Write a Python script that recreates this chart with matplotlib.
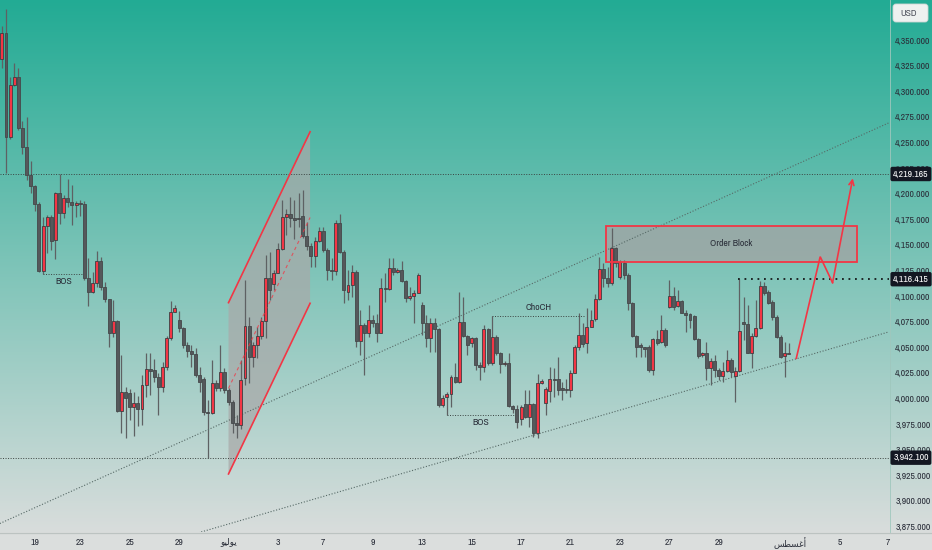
import os

import matplotlib
matplotlib.use("Agg")
import matplotlib.pyplot as plt
import matplotlib.transforms as mtransforms
from matplotlib import font_manager
from matplotlib.font_manager import FontProperties
from matplotlib.patches import Polygon, Rectangle, FancyBboxPatch
import numpy as np

# ---- 4H candles (bar index 0..191) ----
opens = [
    4331.2, 4356.5, 4255.6, 4306.1, 4313.6, 4264.5, 4245.5, 4217.9, 4207.7, 4189.5,
    4124.7, 4168.4, 4177.4, 4155.0, 4200.3, 4180.8, 4196.0, 4191.5, 4188.9, 4191.1,
    4190.2, 4117.3, 4104.2, 4112.4, 4134.2, 4109.1, 4096.8, 4064.2, 4075.6, 3988.0,
    4006.5, 4005.0, 3991.9, 3995.8, 3989.4, 4013.1, 4028.4, 4028.0, 4020.6, 4011.4,
    4031.0, 4058.7, 4084.7, 4077.0, 4068.4, 4052.1, 4046.6, 4043.3, 4022.8, 4018.9,
    3987.0, 3985.5, 4015.3, 4009.9, 4026.1, 4008.2, 3996.8, 3976.4, 3973.6, 4020.0,
    4070.7, 4040.7, 4052.1, 4060.9, 4075.9, 4117.3, 4112.0, 4122.8, 4145.6, 4177.4,
    4180.1, 4175.9, 4176.5, 4178.1, 4158.6, 4148.8, 4139.1, 4154.0, 4163.8, 4144.9,
    4125.4, 4124.4, 4171.6, 4143.3, 4104.2, 4110.7, 4123.7, 4056.3, 4071.7, 4063.6,
    4076.6, 4073.3, 4064.2, 4107.5, 4106.5, 4127.0, 4123.7, 4125.4, 4114.9, 4097.7,
    4100.0, 4103.2, 4091.2, 4073.9, 4058.7, 4073.9, 4067.5, 3993.5, 4001.7, 4004.3,
    4020.6, 4016.3, 4074.9, 4060.9, 4053.8, 4058.7, 4032.6, 4030.9, 4067.5, 4034.3,
    4060.3, 4044.0, 4033.6, 4034.8, 3992.6, 3990.0, 3979.6, 3994.5, 3981.5, 3994.5,
    3966.5, 4015.3, 3995.2, 4007.5, 4018.6, 4018.6, 4009.9, 4009.0, 4008.2, 4025.1,
    4049.9, 4061.9, 4053.8, 4070.0, 4077.2, 4096.8, 4126.1, 4117.3, 4112.4, 4146.6,
    4118.8, 4131.9, 4120.5, 4092.9, 4060.9, 4052.1, 4049.9, 4049.9, 4027.7, 4057.7,
    4055.4, 4066.8, 4089.0, 4100.0, 4090.2, 4095.4, 4083.7, 4082.4, 4080.5, 4057.7,
    4042.4, 4044.6, 4029.4, 4036.8, 4027.7, 4021.9, 4027.0, 4037.5, 4021.9, 4027.0,
    4074.9, 4072.6, 4044.6, 4060.9, 4068.4, 4109.8, 4104.2, 4094.4, 4079.8, 4060.3,
    4041.4, 4044.6,
]
highs = [
    4363.7, 4380.0, 4313.9, 4327.2, 4322.4, 4271.4, 4274.5, 4231.8, 4208.5, 4192.0,
    4177.4, 4179.1, 4179.0, 4202.0, 4219.2, 4198.6, 4214.0, 4208.4, 4192.5, 4194.0,
    4193.0, 4136.8, 4123.7, 4144.2, 4138.1, 4114.0, 4097.5, 4096.1, 4076.5, 4042.4,
    4011.4, 4009.0, 4006.5, 4002.0, 4022.8, 4044.0, 4044.0, 4038.2, 4025.1, 4035.8,
    4061.0, 4095.4, 4091.2, 4085.0, 4070.0, 4055.4, 4052.0, 4049.0, 4031.0, 4021.0,
    3998.4, 4037.5, 4018.0, 4052.0, 4030.0, 4010.0, 3998.4, 3983.7, 4037.5, 4115.6,
    4079.8, 4055.5, 4070.0, 4079.8, 4140.0, 4143.3, 4125.4, 4151.5, 4193.7, 4184.6,
    4197.0, 4193.7, 4200.3, 4203.5, 4172.6, 4151.5, 4158.0, 4167.1, 4167.7, 4146.6,
    4137.1, 4174.2, 4180.1, 4145.0, 4125.4, 4130.3, 4125.4, 4086.3, 4073.3, 4091.2,
    4081.4, 4082.4, 4117.3, 4122.2, 4136.8, 4136.8, 4127.0, 4134.5, 4115.6, 4109.1,
    4105.9, 4122.2, 4094.4, 4081.4, 4078.2, 4078.2, 4068.4, 4003.3, 4006.6, 4022.8,
    4034.3, 4104.2, 4099.3, 4061.9, 4060.3, 4060.3, 4035.8, 4071.7, 4068.4, 4080.5,
    4061.9, 4045.6, 4036.5, 4044.0, 3994.0, 3993.5, 3993.5, 4008.2, 4008.2, 3995.5,
    4023.8, 4019.0, 4011.4, 4031.0, 4029.4, 4040.7, 4016.3, 4018.6, 4027.7, 4052.1,
    4083.1, 4073.9, 4088.0, 4086.3, 4101.9, 4138.4, 4131.9, 4128.6, 4166.1, 4148.1,
    4135.1, 4135.1, 4122.2, 4094.4, 4061.9, 4053.8, 4049.9, 4052.1, 4058.7, 4066.8,
    4081.4, 4068.4, 4115.6, 4109.1, 4105.9, 4096.1, 4086.3, 4083.1, 4081.4, 4058.7,
    4045.6, 4055.4, 4039.1, 4042.4, 4029.4, 4035.8, 4047.3, 4039.1, 4030.9, 4116.415,
    4099.3, 4091.2, 4063.6, 4096.1, 4115.0, 4114.0, 4105.9, 4096.1, 4081.4, 4062.0,
    4055.4, 4053.8,
]
lows = [
    4322.4, 4220.1, 4253.0, 4305.1, 4262.0, 4238.7, 4213.3, 4200.9, 4183.3, 4123.7,
    4121.5, 4141.7, 4144.9, 4135.8, 4170.3, 4175.9, 4187.2, 4169.3, 4176.8, 4178.0,
    4115.6, 4090.2, 4102.6, 4109.1, 4105.9, 4094.4, 4050.5, 4060.3, 3987.0, 3965.9,
    3961.0, 3978.9, 3963.3, 3973.0, 3974.0, 4001.7, 4003.3, 4016.3, 3983.8, 4006.6,
    4027.7, 4057.0, 4084.0, 4065.0, 4049.0, 4040.7, 4031.0, 4021.0, 4006.6, 3984.0,
    3942.1, 3985.0, 4007.0, 4007.0, 4005.0, 3994.0, 3965.9, 3961.0, 3970.5, 4013.0,
    4014.7, 4031.0, 4039.0, 4058.0, 4059.0, 4096.1, 4106.0, 4122.0, 4145.0, 4159.6,
    4167.7, 4156.0, 4167.7, 4157.0, 4145.0, 4128.6, 4128.6, 4152.6, 4143.0, 4115.6,
    4115.6, 4120.5, 4141.7, 4092.9, 4096.1, 4099.3, 4050.5, 4042.4, 4022.8, 4060.3,
    4069.7, 4055.4, 4063.6, 4094.4, 4105.9, 4120.5, 4122.2, 4114.0, 4094.4, 4096.1,
    4073.3, 4102.6, 4061.9, 4050.5, 4045.6, 4045.6, 3991.9, 3991.9, 3983.8, 3991.9,
    4014.7, 4014.7, 4060.3, 4042.4, 4050.0, 4027.7, 4017.9, 4026.1, 4032.6, 4032.6,
    4042.4, 4024.5, 4032.0, 3991.9, 3986.0, 3970.8, 3974.0, 3980.6, 3972.3, 3962.6,
    3961.0, 4014.0, 3983.8, 3996.8, 4001.7, 4003.3, 3998.4, 4004.9, 4001.7, 4024.5,
    4047.3, 4050.5, 4044.6, 4069.5, 4076.0, 4096.1, 4109.1, 4109.1, 4111.0, 4128.6,
    4116.3, 4116.3, 4086.3, 4060.0, 4040.7, 4040.7, 4040.7, 4026.1, 4022.8, 4052.1,
    4053.8, 4050.5, 4088.0, 4086.3, 4089.5, 4083.4, 4065.1, 4068.4, 4057.0, 4039.1,
    4040.7, 4017.9, 4013.1, 4021.2, 4017.9, 4016.3, 4026.1, 4021.2, 3996.8, 4026.1,
    4057.0, 4044.0, 4029.4, 4060.3, 4067.5, 4100.9, 4092.0, 4077.0, 4058.7, 4039.1,
    4021.2, 4043.0,
]
closes = [
    4356.5, 4255.6, 4306.1, 4313.6, 4264.5, 4245.5, 4217.9, 4207.7, 4189.5, 4124.7,
    4168.4, 4177.4, 4154.0, 4200.3, 4180.8, 4196.0, 4191.5, 4188.9, 4191.1, 4190.2,
    4117.3, 4104.2, 4112.4, 4134.2, 4109.1, 4096.8, 4064.2, 4075.6, 3988.0, 4006.5,
    4000.1, 3991.9, 3995.8, 3989.4, 4013.1, 4028.4, 4026.8, 4020.6, 4011.4, 4031.0,
    4058.7, 4084.7, 4088.0, 4068.4, 4052.1, 4046.6, 4043.3, 4022.8, 4016.3, 3987.0,
    3985.5, 4015.3, 4009.9, 4026.1, 4008.2, 3996.8, 3976.4, 3973.6, 4018.0, 4070.7,
    4040.7, 4052.1, 4060.9, 4075.9, 4117.3, 4105.9, 4122.8, 4145.6, 4177.4, 4180.1,
    4175.9, 4174.2, 4175.3, 4158.6, 4148.8, 4139.1, 4154.0, 4163.8, 4144.9, 4125.4,
    4124.4, 4171.6, 4143.3, 4105.9, 4110.7, 4123.7, 4056.3, 4071.7, 4063.6, 4076.6,
    4073.3, 4064.2, 4107.5, 4106.5, 4127.0, 4123.7, 4125.4, 4114.9, 4097.7, 4100.0,
    4103.2, 4120.5, 4073.9, 4058.7, 4073.9, 4067.5, 3993.5, 4000.1, 4004.3, 4020.6,
    4016.3, 4074.9, 4060.9, 4052.1, 4058.7, 4032.6, 4030.9, 4067.5, 4034.3, 4060.3,
    4044.0, 4033.6, 4034.8, 3992.6, 3990.0, 3977.3, 3991.9, 3982.1, 3994.5, 3966.5,
    4014.7, 4017.3, 4008.9, 4018.6, 4017.9, 4008.2, 4008.2, 4008.2, 4025.1, 4049.9,
    4061.9, 4053.1, 4070.0, 4076.6, 4096.8, 4126.1, 4117.3, 4112.4, 4146.6, 4131.9,
    4133.5, 4120.5, 4092.9, 4060.9, 4050.5, 4049.9, 4048.3, 4027.7, 4057.7, 4053.8,
    4066.8, 4052.1, 4100.0, 4089.5, 4095.4, 4083.7, 4081.4, 4076.6, 4057.7, 4041.4,
    4044.6, 4029.4, 4036.8, 4027.7, 4021.9, 4027.0, 4037.5, 4026.1, 4027.0, 4066.1,
    4072.6, 4044.6, 4060.9, 4068.4, 4109.8, 4102.6, 4093.5, 4079.8, 4060.3, 4040.7,
    4044.0, 4043.3,
]

# time axis labels (bar index of each day label)
tick_bars = [8, 19, 31, 43, 55, 67, 78, 90, 102, 114, 126, 138, 150, 162, 174, 191.3, 203.4, 215.1]
tick_labels = [
    "19", "23", "25", "29", "\ufeee\ufef4\ufedf\ufeee\ufef3", "3", "7", "9", "13", "15",
    "17", "21", "23", "27", "29", "\ufeb2\ufec4\ufeb4\ufecf\ufe83", "5", "7",
]
price_ticks = list(range(3875, 4351, 25))
marked_prices = [4219.165, 4116.415, 3942.100]

# drawings: (bar, price) pairs
upper_trend = ([-0.5, 215.3], [3877.8, 4269.2])
lower_trend = ([45.0, 215.3], [3865.6, 4065.0])
channel_top = ([55.0, 74.8], [4093.5, 4260.4])
channel_bottom = ([55.0, 74.8], [3926.2, 4092.9])
channel_mid = ([55.0, 74.8], [4009.8, 4176.7])
order_block = (146.6, 207.5, 4133.5, 4168.4)
bos_levels = [(10.0, 19.8, 4121.5), (108.0, 124.3, 3983.8)]
choch_level = (118.9, 141.5, 4080.5)
projection_x = [192.8, 198.6, 201.6, 206.5]
projection_y = [4039.2, 4138.4, 4113.0, 4214.9]

W, H = 932, 550
PLOT_R, PLOT_B = 889, 532
RED = "#f23645"
TXT = "#2a2e39"

plt.rcParams["font.family"] = ["Liberation Sans", "DejaVu Sans"]


def narrow_font():
    """Pick an installed condensed/narrow regular face, if any."""
    skip = ("bold", "italic", "oblique", "light", "thin", "black", "medium", "extra")
    best = None
    for f in font_manager.fontManager.ttflist:
        base = os.path.basename(f.fname).lower()
        if not ("narrow" in base or "condensed" in base):
            continue
        rest = base.replace("semicondensed", "").replace("condensed", "").replace("narrow", "")
        if any(w in rest for w in skip):
            continue
        rank = 0 if "narrow" in base else (1 if "semicondensed" not in base else 2)
        if best is None or rank < best[0]:
            best = (rank, f.fname)
    return best[1] if best else None


nf = narrow_font()
if nf:
    LBL = FontProperties(fname=nf, size=7.0)
else:
    LBL = FontProperties(family="Liberation Sans", size=5.8)

fig = plt.figure(figsize=(W / 100, H / 100), dpi=100)

# background in pixel coordinates
bg = fig.add_axes([0, 0, 1, 1])
bg.set_xlim(0, W)
bg.set_ylim(H, 0)
bg.axis("off")
top = np.array([34, 171, 148]) / 255
bot = np.array([217, 221, 220]) / 255
t = np.clip(np.arange(H) / PLOT_B, 0, 1)[:, None]
grad = top * (1 - t) + bot * t
grad[PLOT_B:] = np.array([219, 222, 221]) / 255
bg.imshow(np.repeat(grad[:, None, :], 2, axis=1), aspect="auto", extent=(0, W, H, 0), zorder=0)
bg.plot([0, W], [PLOT_B + 0.5, PLOT_B + 0.5], color="#bcc3c1", lw=0.9)
bg.plot([PLOT_R + 0.5, PLOT_R + 0.5], [0, PLOT_B], color="#9fc7bd", lw=0.6)
bg.add_patch(FancyBboxPatch((893, 4), 35, 18, boxstyle="round,pad=0,rounding_size=3",
                            fc="#eef1f0", ec="#cfd6d4", lw=0.6))
bg.text(900, 13.5, "USD", fontproperties=LBL, color="#50535e", va="center", ha="left")

ax = fig.add_axes([0, (H - PLOT_B) / H, PLOT_R / W, PLOT_B / H])
ax.patch.set_alpha(0)
for s in ax.spines.values():
    s.set_visible(False)

o = np.array(opens)
c = np.array(closes)
hi = np.maximum(np.array(highs), np.maximum(o, c))
lo = np.minimum(np.array(lows), np.minimum(o, c))
x = np.arange(len(o))
up = c >= o

# channel and order block fills (under candles)
ax.add_patch(Polygon([(channel_top[0][0], channel_top[1][0]), (channel_top[0][1], channel_top[1][1]),
                      (channel_bottom[0][1], channel_bottom[1][1]), (channel_bottom[0][0], channel_bottom[1][0])],
                     closed=True, fc="#a9a9a9", ec="none", alpha=0.72, zorder=1))
x0, x1, ob_lo, ob_hi = order_block
ax.add_patch(Rectangle((x0, ob_lo), x1 - x0, ob_hi - ob_lo, fc="#a3a3a3", ec="none", alpha=0.75, zorder=1))

# candles
ax.vlines(x, lo, hi, color="#5e6163", lw=0.9, zorder=2)
ax.bar(x[up], np.maximum(c - o, 0.9)[up], bottom=o[up], width=0.72,
       color=RED, edgecolor="#3d3f42", linewidth=0.6, zorder=3)
ax.bar(x[~up], np.maximum(o - c, 0.9)[~up], bottom=c[~up], width=0.72,
       color="#55585b", edgecolor="#45484a", linewidth=0.6, zorder=3)

# horizontal levels
dots = (0, (1, 1.6))
ax.axhline(marked_prices[0], color="#3b4341", lw=0.7, ls=dots, zorder=2)
ax.axhline(marked_prices[2], color="#3b4341", lw=0.7, ls=dots, zorder=2)
ax.hlines(marked_prices[1], 178.6, 216, color="#15191a", lw=1.3, ls=(0, (1, 2.6)), zorder=4)

# trend lines
ax.plot(*upper_trend, color="#566966", lw=0.8, ls=dots, zorder=2)
ax.plot(*lower_trend, color="#566966", lw=0.8, ls=dots, zorder=2)

# channel edges
ax.plot(*channel_top, color=RED, lw=1.2, zorder=4)
ax.plot(*channel_bottom, color=RED, lw=1.2, zorder=4)
ax.plot(*channel_mid, color=RED, lw=0.8, ls=(0, (3, 3)), alpha=0.75, zorder=4)

# order block outline
ax.add_patch(Rectangle((x0, ob_lo), x1 - x0, ob_hi - ob_lo, fc="none", ec=RED, lw=1.3, zorder=4))
ax.text((x0 + x1) / 2, (ob_lo + ob_hi) / 2, "Order Block", fontproperties=LBL, color=TXT,
        ha="center", va="center", zorder=5)

# structure labels
for bx0, bx1, lvl in bos_levels:
    ax.hlines(lvl, bx0, bx1, color="#3b4341", lw=0.7, ls=dots, zorder=4)
    ax.text((bx0 + bx1) / 2, lvl - 7, "BOS", fontproperties=LBL, color=TXT,
            ha="center", va="center", zorder=5)
cx0, cx1, clvl = choch_level
ax.hlines(clvl, cx0, cx1, color="#3b4341", lw=0.7, ls=dots, zorder=4)
ax.text((cx0 + cx1) / 2, clvl + 8, "ChoCH", fontproperties=LBL, color=TXT,
        ha="center", va="center", zorder=5)

# projected path
ax.plot(projection_x[:3], projection_y[:3], color=RED, lw=1.2, zorder=5, solid_joinstyle="miter")
ax.annotate("", xy=(projection_x[3], projection_y[3]), xytext=(projection_x[2], projection_y[2]),
            arrowprops=dict(arrowstyle="->", color=RED, lw=1.2, shrinkA=0, shrinkB=0, mutation_scale=9),
            zorder=5)

ax.set_xlim(-0.46, 215.3)
ax.set_ylim(3869.5, 4389.1)

ax.set_xticks(tick_bars)
ax.set_xticklabels(tick_labels)
ax.yaxis.tick_right()
ax.set_yticks(price_ticks)
ax.set_yticklabels([f"{p:,.3f}" for p in price_ticks])
ax.tick_params(axis="x", length=0, pad=4, labelcolor=TXT)
ax.tick_params(axis="y", length=0, pad=4.5, labelcolor=TXT)
for lab in ax.get_yticklabels():
    lab.set_fontproperties(LBL)
for lab in ax.get_xticklabels():
    if lab.get_text().isdigit():
        lab.set_fontproperties(LBL)
    else:
        lab.set_fontproperties(FontProperties(family="DejaVu Sans", size=6.3))

# price tags on the scale
trans = mtransforms.blended_transform_factory(ax.transAxes, ax.transData) + \
    mtransforms.ScaledTranslation(3.0 / 72, 0, fig.dpi_scale_trans)
for p in marked_prices:
    ax.text(1.0, p, f"{p:,.3f}", transform=trans, fontproperties=LBL, color="white",
            ha="left", va="center",
            bbox=dict(boxstyle="round,pad=0.28,rounding_size=0.2", fc="#131722", ec="none"), zorder=6)

fig.savefig("out.png", dpi=100)
